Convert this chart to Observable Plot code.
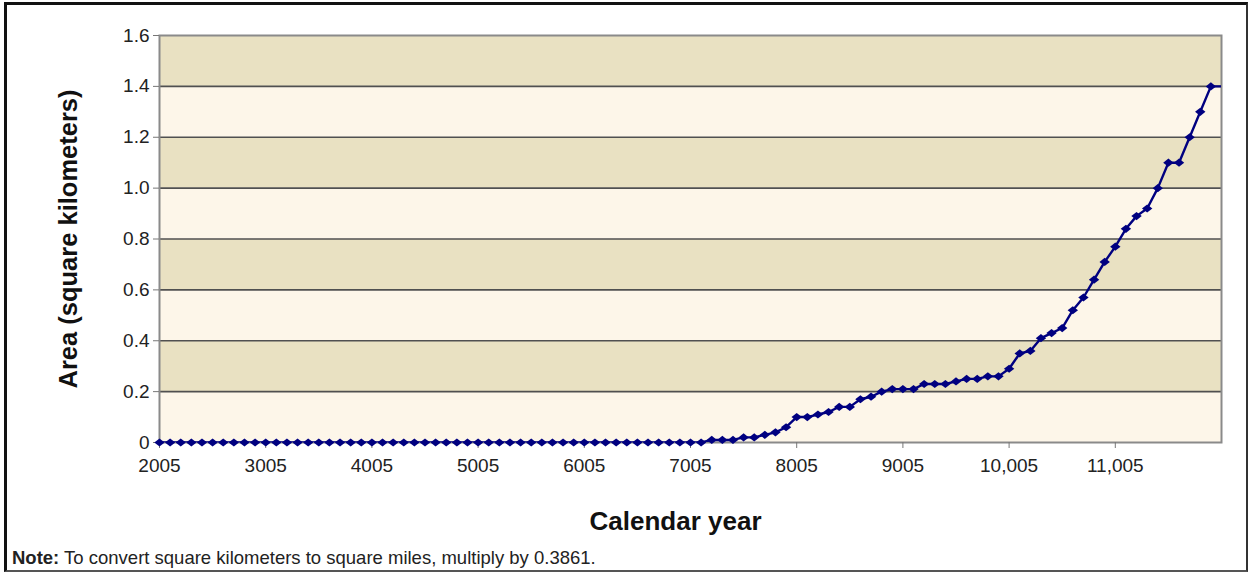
<!DOCTYPE html>
<html>
<head>
<meta charset="utf-8">
<script src="https://cdn.jsdelivr.net/npm/d3@7"></script>
<script src="https://cdn.jsdelivr.net/npm/@observablehq/plot@0.6"></script>
<style>
  html, body { margin: 0; padding: 0; background: #fff; }
  #page { position: relative; width: 1249px; height: 573px; overflow: hidden; font-family: "Liberation Sans", Arial, sans-serif; }
  #border { position: absolute; left: 4px; top: 2px; width: 1244px; height: 570px; box-sizing: border-box;
            border-top: 3px solid #111; border-left: 3px solid #111; border-right: 2px solid #333; border-bottom: 2px solid #555; }
  #chart { position: absolute; left: 0; top: 0; }
  #note { position: absolute; left: 12px; top: 547px; font-size: 18.5px; color: #222; white-space: nowrap; }
  #note b { font-weight: bold; }
</style>
</head>
<body>
<div id="page">
  <div id="border"></div>
  <div id="chart"></div>
  <div id="note"><b>Note:</b> To convert square kilometers to square miles, multiply by 0.3861.</div>
</div>
<script>
// Calendar years (every 100 years)
const years = [
  2005, 2105, 2205, 2305, 2405, 2505, 2605, 2705, 2805, 2905,
  3005, 3105, 3205, 3305, 3405, 3505, 3605, 3705, 3805, 3905,
  4005, 4105, 4205, 4305, 4405, 4505, 4605, 4705, 4805, 4905,
  5005, 5105, 5205, 5305, 5405, 5505, 5605, 5705, 5805, 5905,
  6005, 6105, 6205, 6305, 6405, 6505, 6605, 6705, 6805, 6905,
  7005, 7105, 7205, 7305, 7405, 7505, 7605, 7705, 7805, 7905,
  8005, 8105, 8205, 8305, 8405, 8505, 8605, 8705, 8805, 8905,
  9005, 9105, 9205, 9305, 9405, 9505, 9605, 9705, 9805, 9905,
  10005, 10105, 10205, 10305, 10405, 10505, 10605, 10705, 10805, 10905,
  11005, 11105, 11205, 11305, 11405, 11505, 11605, 11705, 11805, 11905,
  12005
];
// Area (square kilometers)
const areas = [
  0, 0, 0, 0, 0, 0, 0, 0, 0, 0,
  0, 0, 0, 0, 0, 0, 0, 0, 0, 0,
  0, 0, 0, 0, 0, 0, 0, 0, 0, 0,
  0, 0, 0, 0, 0, 0, 0, 0, 0, 0,
  0, 0, 0, 0, 0, 0, 0, 0, 0, 0,
  0, 0, 0.01, 0.01, 0.01, 0.02, 0.02, 0.03, 0.04, 0.06,
  0.10, 0.10, 0.11, 0.12, 0.14, 0.14, 0.17, 0.18, 0.20, 0.21,
  0.21, 0.21, 0.23, 0.23, 0.23, 0.24, 0.25, 0.25, 0.26, 0.26,
  0.29, 0.35, 0.36, 0.41, 0.43, 0.45, 0.52, 0.57, 0.64, 0.71,
  0.77, 0.84, 0.89, 0.92, 1.00, 1.10, 1.10, 1.20, 1.30, 1.40,
  1.40
];
const xTicks = [2005, 3005, 4005, 5005, 6005, 7005, 8005, 9005, 10005, 11005];
const yTicks = [0, 0.2, 0.4, 0.6, 0.8, 1.0, 1.2, 1.4, 1.6];
const gridValues = [0.2, 0.4, 0.6, 0.8, 1.0, 1.2, 1.4];
const bandStarts = [0, 0.2, 0.4, 0.6, 0.8, 1.0, 1.2, 1.4];
const xLabel = "Calendar year";
const yLabel = "Area (square kilometers)";

const data = years.map((year, i) => ({year, area: areas[i]}));
const shown = data.filter(d => d.year <= 11905);
const bands = bandStarts.map((b, i) => ({y1: b, y2: yTicks[i + 1], fill: i % 2 === 0 ? "#fdf6e9" : "#e9e1c2"}));

const wideDiamond = {
  draw(context, size) {
    const w = 5.2, h = 4.1;
    context.moveTo(-w, 0);
    context.lineTo(0, -h);
    context.lineTo(w, 0);
    context.lineTo(0, h);
    context.closePath();
  }
};

const chart = Plot.plot({
  width: 1249,
  height: 573,
  marginLeft: 159,
  marginRight: 28,
  marginTop: 35,
  marginBottom: 131,
  style: {fontFamily: "Liberation Sans, Arial, sans-serif", fontSize: "19px", color: "#222", background: "transparent"},
  x: {domain: [2005, 12005]},
  y: {domain: [0, 1.6]},
  marks: [
    Plot.rect(bands, {y1: "y1", y2: "y2", fill: "fill"}),
    Plot.ruleY(gridValues, {stroke: "#505050", strokeWidth: 1.6}),
    Plot.frame({stroke: "#8a8a8a", strokeWidth: 2}),
    Plot.axisY({ticks: yTicks, tickSize: 6, tickPadding: 4, label: null, stroke: "#777",
      tickFormat: d => d === 0 ? "0" : d.toFixed(1), fontSize: 19}),
    Plot.axisX({ticks: xTicks, tickSize: 6, tickPadding: 10, label: null, stroke: "#777",
      tickFormat: d => d >= 10000 ? d3.format(",")(d) : String(d), fontSize: 19}),
    Plot.line(data, {x: "year", y: "area", stroke: "#000080", strokeWidth: 2.4, clip: true}),
    Plot.dot(shown, {x: "year", y: "area", symbol: wideDiamond, fill: "#000080", stroke: "none", r: 4}),
    Plot.text([xLabel], {frameAnchor: "bottom", lineAnchor: "middle", textAnchor: "middle", dy: 79, dx: -15,
      fontSize: 26, fontWeight: "bold", fill: "#111", text: d => d}),
    Plot.text([yLabel], {frameAnchor: "left", lineAnchor: "middle", textAnchor: "middle", rotate: -90, dx: -91,
      fontSize: 25.5, fontWeight: "bold", fill: "#111", text: d => d})
  ]
});
document.getElementById("chart").appendChild(chart);
</script>
</body>
</html>
